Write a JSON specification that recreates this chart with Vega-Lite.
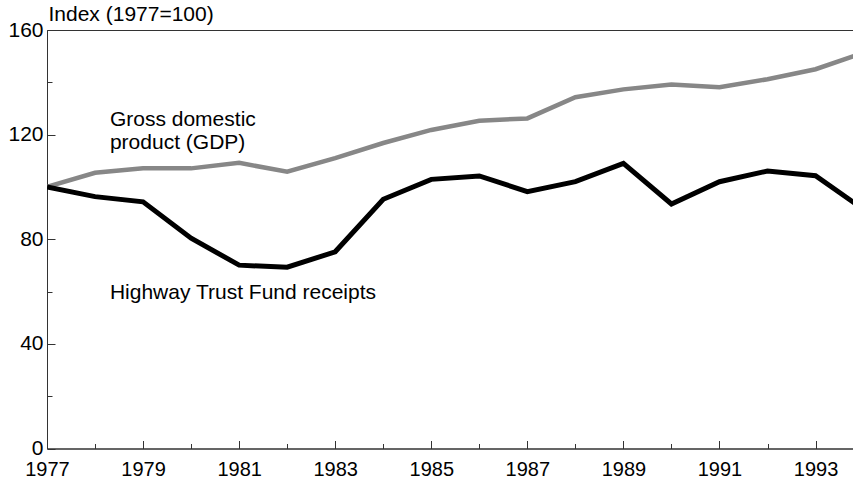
{
  "$schema": "https://vega.github.io/schema/vega-lite/v6.json",
  "width": 806,
  "height": 418.5,
  "autosize": {"type": "none"},
  "padding": {"left": 47, "top": 30, "right": 0, "bottom": 31.5},
  "config": {
    "font": "Liberation Sans",
    "view": {"stroke": "#333", "strokeWidth": 1},
    "axis": {"domainColor": "#333", "tickColor": "#333", "labelColor": "#000", "titleColor": "#000", "labelFontSize": 21, "titleFontSize": 21, "titleFontWeight": "normal", "grid": false, "labelFont": "Liberation Sans", "titleFont": "Liberation Sans"}
  },
  "data": {
    "values": [
      {"series": "GDP", "year": 1977, "value": 100},
      {"series": "GDP", "year": 1978, "value": 105.4},
      {"series": "GDP", "year": 1979, "value": 107.1},
      {"series": "GDP", "year": 1980, "value": 107.1},
      {"series": "GDP", "year": 1981, "value": 109.2},
      {"series": "GDP", "year": 1982, "value": 105.8},
      {"series": "GDP", "year": 1983, "value": 111.0},
      {"series": "GDP", "year": 1984, "value": 116.8},
      {"series": "GDP", "year": 1985, "value": 121.8},
      {"series": "GDP", "year": 1986, "value": 125.3},
      {"series": "GDP", "year": 1987, "value": 126.2},
      {"series": "GDP", "year": 1988, "value": 134.3},
      {"series": "GDP", "year": 1989, "value": 137.3},
      {"series": "GDP", "year": 1990, "value": 139.2},
      {"series": "GDP", "year": 1991, "value": 138.1},
      {"series": "GDP", "year": 1992, "value": 141.2},
      {"series": "GDP", "year": 1993, "value": 145.0},
      {"series": "GDP", "year": 1994, "value": 151.3},
      {"series": "HTF", "year": 1977, "value": 100},
      {"series": "HTF", "year": 1978, "value": 96.3},
      {"series": "HTF", "year": 1979, "value": 94.3},
      {"series": "HTF", "year": 1980, "value": 80.4},
      {"series": "HTF", "year": 1981, "value": 70.1},
      {"series": "HTF", "year": 1982, "value": 69.3},
      {"series": "HTF", "year": 1983, "value": 75.2},
      {"series": "HTF", "year": 1984, "value": 95.3},
      {"series": "HTF", "year": 1985, "value": 102.9},
      {"series": "HTF", "year": 1986, "value": 104.2},
      {"series": "HTF", "year": 1987, "value": 98.2},
      {"series": "HTF", "year": 1988, "value": 102.0},
      {"series": "HTF", "year": 1989, "value": 109.0},
      {"series": "HTF", "year": 1990, "value": 93.5},
      {"series": "HTF", "year": 1991, "value": 102.0},
      {"series": "HTF", "year": 1992, "value": 106.1},
      {"series": "HTF", "year": 1993, "value": 104.3},
      {"series": "HTF", "year": 1994, "value": 91.4}
    ]
  },
  "layer": [
    {
      "transform": [{"filter": "datum.series === 'GDP'"}],
      "mark": {"type": "line", "color": "#878787", "strokeWidth": 4.5, "clip": true},
      "encoding": {
        "x": {"field": "year", "type": "quantitative", "scale": {"domain": [1977, 1993.78], "nice": false, "zero": false},
          "axis": {"orient": "bottom", "values": [1977, 1979, 1981, 1983, 1985, 1987, 1989, 1991, 1993], "format": "d", "ticks": false, "labelPadding": 11, "labelFontSize": 20, "title": null, "labelFlush": false, "labelOverlap": false}},
        "y": {"field": "value", "type": "quantitative", "scale": {"domain": [0, 160], "nice": false},
          "axis": {"orient": "left", "values": [0, 40, 80, 120, 160], "ticks": false, "labelPadding": 4, "labelFlush": false, "labelOverlap": false, "title": "Index (1977=100)", "titleAngle": 0, "titleAlign": "left", "titleBaseline": "alphabetic", "titleX": 1, "titleY": -9.5}}
      }
    },
    {
      "transform": [{"filter": "datum.series === 'HTF'"}],
      "mark": {"type": "line", "color": "#000000", "strokeWidth": 5, "clip": true},
      "encoding": {
        "x": {"field": "year", "type": "quantitative",
          "axis": {"orient": "bottom", "values": [1977, 1979, 1981, 1983, 1985, 1987, 1989, 1991, 1993], "labels": false, "domain": false, "tickSize": -8, "title": null}},
        "y": {"field": "value", "type": "quantitative",
          "axis": {"orient": "left", "values": [0, 40, 80, 120, 160], "labels": false, "domain": false, "tickSize": -8, "title": null}}
      }
    },
    {
      "data": {
        "values": [
          {"label": "Gross domestic", "year": 1978.31, "value": 123.3},
          {"label": "product (GDP)", "year": 1978.31, "value": 114.4},
          {"label": "Highway Trust Fund receipts", "year": 1978.31, "value": 57.0}
        ]
      },
      "mark": {"type": "text", "align": "left", "baseline": "alphabetic", "fontSize": 21, "font": "Liberation Sans", "color": "#000"},
      "encoding": {
        "text": {"field": "label"},
        "x": {"field": "year", "type": "quantitative",
          "axis": {"orient": "bottom", "values": [1978, 1980, 1982, 1984, 1986, 1988, 1990, 1992], "labels": false, "domain": false, "tickSize": -5, "title": null}},
        "y": {"field": "value", "type": "quantitative",
          "axis": {"orient": "left", "values": [20, 60, 100, 140], "labels": false, "domain": false, "tickSize": -5, "title": null}}
      }
    }
  ],
  "resolve": {"axis": {"x": "independent", "y": "independent"}}
}
